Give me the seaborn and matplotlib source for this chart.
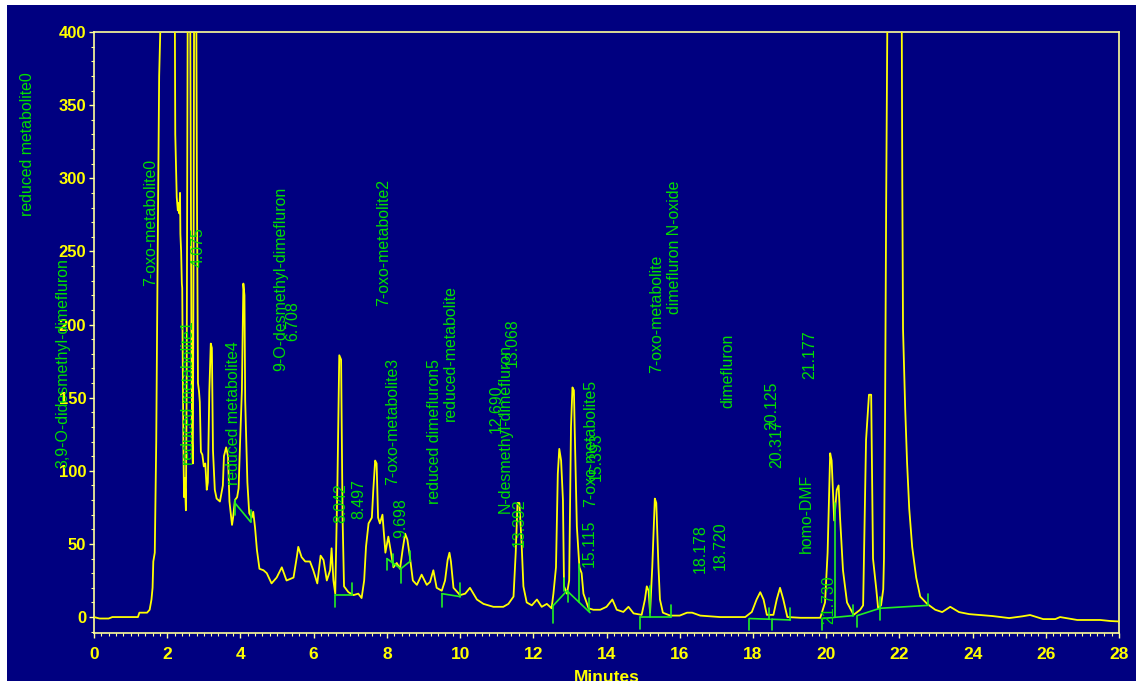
import matplotlib
matplotlib.use("Agg")
import matplotlib.pyplot as plt
from matplotlib.patches import Rectangle
from matplotlib.ticker import MultipleLocator
import seaborn as sns
import pandas as pd

# ---------------- data ----------------
times = [0.00, 0.15, 0.40, 0.50, 1.20, 1.24, 1.45, 1.52, 1.57, 1.60, 1.62, 1.66, 1.70, 1.74, 1.78, 1.81, 1.84,
         2.00, 2.19, 2.21, 2.22, 2.26, 2.29, 2.31, 2.33, 2.35, 2.36, 2.38, 2.40, 2.41, 2.44, 2.46, 2.48, 2.51,
         2.53, 2.56, 2.60, 2.63, 2.66, 2.68, 2.70, 2.72, 2.75, 2.79, 2.81, 2.84, 2.87, 2.89, 2.92, 2.96, 3.00,
         3.04, 3.08, 3.11, 3.15, 3.19, 3.22, 3.25, 3.30, 3.35, 3.44, 3.52, 3.55, 3.61, 3.66, 3.70, 3.77, 3.80,
         3.85, 3.91, 3.95, 3.99, 4.04, 4.08, 4.11, 4.13, 4.19, 4.24, 4.31, 4.35, 4.40, 4.45, 4.52, 4.63, 4.72,
         4.85, 4.99, 5.13, 5.26, 5.45, 5.54, 5.58, 5.67, 5.77, 5.90, 5.99, 6.10, 6.19, 6.27, 6.36, 6.45, 6.49,
         6.54, 6.59, 6.65, 6.70, 6.75, 6.79, 6.83, 6.95, 7.09, 7.22, 7.31, 7.38, 7.43, 7.50, 7.59, 7.63, 7.68,
         7.72, 7.76, 7.81, 7.88, 7.92, 7.96, 8.04, 8.10, 8.18, 8.27, 8.36, 8.43, 8.50, 8.56, 8.63, 8.71, 8.82,
         8.95, 9.09, 9.18, 9.27, 9.36, 9.50, 9.59, 9.66, 9.71, 9.75, 9.82, 10.00, 10.14, 10.27, 10.46, 10.64,
         10.91, 11.18, 11.32, 11.46, 11.52, 11.57, 11.62, 11.68, 11.73, 11.82, 11.96, 12.10, 12.23, 12.37,
         12.50, 12.55, 12.62, 12.67, 12.71, 12.76, 12.81, 12.84, 12.92, 12.98, 13.03, 13.07, 13.11, 13.13,
         13.19, 13.26, 13.32, 13.37, 13.51, 13.64, 13.83, 14.00, 14.16, 14.28, 14.46, 14.60, 14.74, 14.96,
         15.05, 15.10, 15.15, 15.19, 15.25, 15.32, 15.36, 15.42, 15.46, 15.54, 15.74, 16.00, 16.20, 16.34,
         16.56, 17.10, 17.79, 17.97, 18.10, 18.20, 18.29, 18.38, 18.56, 18.65, 18.74, 18.83, 18.94, 19.30,
         19.84, 19.97, 20.04, 20.11, 20.15, 20.22, 20.29, 20.34, 20.38, 20.46, 20.57, 20.75, 20.93, 21.01,
         21.09, 21.17, 21.23, 21.26, 21.28, 21.37, 21.42, 21.50, 21.56, 21.58, 21.61, 21.64, 21.67, 21.70,
         21.90, 22.06, 22.08, 22.10, 22.16, 22.21, 22.27, 22.35, 22.46, 22.57, 22.76, 22.98, 23.17, 23.39,
         23.63, 23.91, 24.54, 25.00, 25.36, 25.57, 25.93, 26.26, 26.39, 26.56, 26.86, 27.49, 27.76, 28.00]
signal = [0, -1, -1, 0, 0, 3, 3, 5, 12, 20, 38, 44, 120, 250, 370, 400, 420,
          600, 420, 400, 330, 287, 278, 283, 276, 290, 262, 250, 228, 225, 120, 82, 95, 73,
          150, 420, 600, 400, 200, 120, 105, 250, 600, 450, 300, 160, 154, 147, 113, 111, 103,
          105, 87, 92, 154, 187, 184, 114, 87, 81, 79, 90, 110, 116, 110, 79, 63, 68,
          80, 82, 88, 119, 155, 228, 220, 148, 92, 71, 68, 72, 61, 46, 33, 32, 30,
          23, 27, 34, 25, 27, 41, 48, 41, 38, 38, 32, 23, 42, 39, 25, 32, 47,
          25, 16, 92, 179, 176, 68, 21, 17, 15, 16, 13, 25, 48, 64, 68, 87, 107,
          105, 68, 64, 70, 57, 44, 55, 46, 34, 37, 33, 46, 57, 53, 41, 25, 22,
          29, 22, 24, 32, 20, 18, 25, 39, 44, 38, 20, 15, 16, 20, 12, 9,
          7, 7, 9, 14, 44, 78, 78, 51, 21, 10, 8, 12, 7, 9,
          6, 16, 34, 98, 115, 107, 80, 21, 16, 25, 130, 157, 155, 130,
          62, 34, 30, 16, 6, 5, 5, 7, 12, 5, 3.5, 7, 2.5, 1.5,
          12, 21, 18, 3, 34, 81, 78, 34, 12, 3, 1, 1, 3, 3,
          1, 0, 0, 3.5, 12, 17, 12, 1.5, 1.5, 12, 20, 12, 0, -0.5,
          -0.5, 10, 44, 112, 107, 66, 87, 90, 68, 32, 10, 1.5, 5, 8,
          121, 152, 152, 82, 40, 19, 6, 8, 19, 40, 140, 285, 400, 450,
          700, 450, 297, 197, 142, 106, 74, 48, 27, 14, 9, 5, 3.4, 7,
          3.4, 2, 0.7, -0.7, 0.5, 1.4, -1.4, -1.4, 0, -0.7, -2, -2, -2.7, -3]

# integration baselines: start time, start value, end time, end value
base_t0 = [3.85, 6.58, 8.00, 8.38, 9.50, 12.55, 12.92, 14.92, 17.90, 18.52, 19.90, 20.85, 21.47]
base_v0 = [78, 15, 40, 33, 16, 8, 18, 0, -1, -1.5, -1, 1, 6]
base_t1 = [4.28, 7.05, 8.38, 8.63, 10.00, 12.92, 13.55, 15.76, 18.47, 19.02, 20.74, 21.47, 22.79]
base_v1 = [65, 15, 33, 38, 14, 18, 3, 0, -1.5, -2, 1, 6, 8]

# peak start / stop marks: time, from value, to value
mark_t = [3.85, 4.28, 6.58, 7.05, 8.00, 8.18, 8.38, 8.63, 9.50, 10.00, 12.55, 12.85, 12.94, 13.26,
          13.52, 14.92, 15.19, 15.76, 17.90, 18.44, 18.52, 19.02, 19.90, 20.25, 20.74, 20.85, 21.47, 22.79]
mark_v0 = [80, 65, 15, 15, 40, 35, 33, 38, 16, 14, 8, 18, 18, 10,
           4, 0, 0, 0, -1, -1.5, -1.5, -2, -1, 0, 1, 1, -2, 8]
mark_v1 = [70, 73, 7, 23, 32, 43, 23, 45, 7, 23, -4, 27, 10, 36,
           13, -8, 21, 8, -9, 6, -9, 6, -9, 78, 8, -7, 14, 16]

# peak annotations: text, time of text column, value at text start
peak_names = ["reduced metabolite0", "3,9-O-didesmethyl-dimefluron", "7-oxo-metabolite0",
              "reduced metabolite1", "4.075", "reduced metabolite4", "9-O-desmethyl-dimefluron",
              "6.708", "7-oxo-metabolite2", "8.042", "8.497", "7-oxo-metabolite3", "9.698",
              "reduced dimefluron5", "reduced-metabolite", "12.690", "N-desmethyl-dimefluron",
              "13.068", "13.392", "7-oxo-metabolite5", "15.393", "15.115", "7-oxo-metabolite",
              "dimefluron N-oxide", "dimefluron", "20.125", "20.317", "21.177", "homo-DMF",
              "21.730", "18.178", "18.720"]
name_t = [-1.83, -0.85, 1.56, 2.57, 2.84, 3.80, 5.11, 5.44, 7.92, 6.75, 7.24, 8.17, 8.39,
          9.29, 9.73, 10.98, 11.23, 11.42, 11.61, 13.58, 13.72, 13.52, 15.38,
          15.87, 17.32, 18.52, 18.66, 19.56, 19.45, 20.08, 16.56, 17.10]
name_v = [274, 102, 226, 104, 239, 90, 168, 189, 213, 64, 67, 90, 54,
          77, 134, 126, 71, 171, 48, 75, 93, 34, 167,
          207, 143, 128, 102, 163, 44, -5, 30, 32]

# ---------------- style ----------------
NAVY = "#000080"
YELLOW = "#FFFF00"
GREEN = "#00E000"
FRAME = "#FFFF99"

sns.set_style("ticks")
plt.rcParams["font.family"] = ["Liberation Sans", "DejaVu Sans"]

fig = plt.figure(figsize=(11.36, 6.81), dpi=100, facecolor="white")
fig.patches.append(Rectangle((7 / 1136, 0), 1 - 7 / 1136, 1 - 5 / 681, transform=fig.transFigure,
                             facecolor=NAVY, edgecolor="none", zorder=-10))
ax = fig.add_axes([94 / 1136, 48 / 681, 1025 / 1136, 601 / 681])
ax.set_facecolor(NAVY)

df = pd.DataFrame({"Minutes": times, "Signal": signal})
sns.lineplot(data=df, x="Minutes", y="Signal", ax=ax, color=YELLOW, lw=1.3,
             estimator=None, sort=False, zorder=3)

for t0, v0, t1, v1 in zip(base_t0, base_v0, base_t1, base_v1):
    ax.plot([t0, t1], [v0, v1], color="#22EE22", lw=1.2, zorder=4)
for t, a, b in zip(mark_t, mark_v0, mark_v1):
    ax.plot([t, t], [a, b], color="#22EE22", lw=1.2, zorder=4)

for name, t, v in zip(peak_names, name_t, name_v):
    ax.text(t, v, name, rotation=90, ha="center", va="bottom", color=GREEN,
            fontsize=11.4, zorder=5, clip_on=False)

ax.set_xlim(0, 28)
ax.set_ylim(-10.9, 400)
ax.xaxis.set_major_locator(MultipleLocator(2))
ax.xaxis.set_minor_locator(MultipleLocator(0.2))
ax.yaxis.set_major_locator(MultipleLocator(50))
ax.yaxis.set_minor_locator(MultipleLocator(10))

for s in ax.spines.values():
    s.set_visible(True)
    s.set_color(FRAME)
    s.set_linewidth(1.2)

ax.tick_params(axis="both", which="both", colors=FRAME, direction="out")
ax.tick_params(axis="both", which="major", length=3.5, width=1)
ax.tick_params(axis="both", which="minor", length=2, width=0.8)
ax.tick_params(axis="x", which="major", pad=6.5, labelcolor=YELLOW, labelsize=12.5)
ax.tick_params(axis="y", which="major", pad=2, labelcolor=YELLOW, labelsize=12)
for lbl in ax.get_xticklabels() + ax.get_yticklabels():
    lbl.set_fontweight("bold")

ax.set_xlabel("Minutes", color=YELLOW, fontsize=12.5, fontweight="bold", labelpad=6)
ax.set_ylabel("")
ax.grid(False)

fig.savefig("out.png", dpi=100, facecolor=fig.get_facecolor())
